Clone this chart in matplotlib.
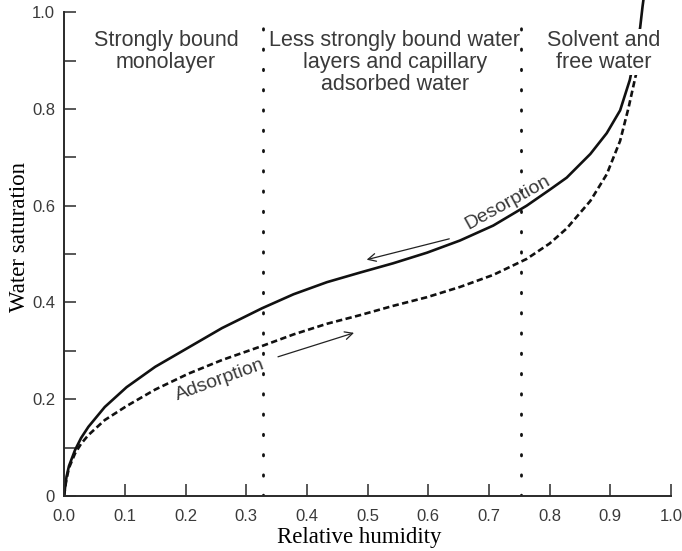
import matplotlib
matplotlib.use("Agg")
import matplotlib.pyplot as plt

# Data
desorption_x = [0.0, 0.002, 0.004, 0.008, 0.018, 0.028, 0.04, 0.067, 0.103, 0.15, 0.205, 0.26,
                0.326, 0.378, 0.433, 0.488, 0.542, 0.598, 0.652, 0.707, 0.762, 0.80, 0.828,
                0.867, 0.894, 0.916, 0.932, 0.941, 0.949, 0.953, 0.956]
desorption_y = [0.0, 0.022, 0.04, 0.062, 0.095, 0.12, 0.143, 0.184, 0.225, 0.267, 0.307, 0.347,
                0.388, 0.417, 0.442, 0.462, 0.481, 0.503, 0.528, 0.559, 0.60, 0.633, 0.658,
                0.707, 0.750, 0.797, 0.860, 0.915, 0.968, 1.012, 1.04]
adsorption_x = [0.0, 0.002, 0.004, 0.008, 0.018, 0.028, 0.04, 0.067, 0.103, 0.15, 0.205, 0.26,
                0.326, 0.378, 0.433, 0.488, 0.542, 0.598, 0.652, 0.707, 0.762, 0.80, 0.828,
                0.867, 0.894, 0.916, 0.930, 0.941, 0.946]
adsorption_y = [0.0, 0.02, 0.035, 0.058, 0.088, 0.108, 0.126, 0.157, 0.186, 0.220, 0.253, 0.281,
                0.310, 0.334, 0.356, 0.374, 0.393, 0.411, 0.432, 0.457, 0.49, 0.522, 0.553,
                0.61, 0.665, 0.734, 0.803, 0.865, 0.89]
boundaries = [0.328, 0.753]
region_labels = ["Strongly bound\nmonolayer",
                 "Less strongly bound water\nlayers and capillary\nadsorbed water",
                 "Solvent and\nfree water"]
x_ticks = [0.0, 0.1, 0.2, 0.3, 0.4, 0.5, 0.6, 0.7, 0.8, 0.9, 1.0]
x_tick_labels = ["0.0", "0.1", "0.2", "0.3", "0.4", "0.5", "0.6", "0.7", "0.8", "0.9", "1.0"]
y_ticks = [0.0, 0.2, 0.4, 0.6, 0.8, 1.0]
y_tick_labels = ["0", "0.2", "0.4", "0.6", "0.8", "1.0"]
y_minor = [0.1, 0.3, 0.5, 0.7, 0.9]

sans = ["Liberation Sans", "DejaVu Sans"]
serif = ["Liberation Serif", "DejaVu Serif"]
tc = "#3a3a3a"

fig = plt.figure(figsize=(6.82, 5.51), dpi=100)
ax = fig.add_axes([0.094, 0.0998, 0.89, 0.900])
ax.set_xlim(0, 1.0)
ax.set_ylim(0, 1.025)

for s in ["top", "right"]:
    ax.spines[s].set_visible(False)
ax.spines["left"].set_bounds(0, 1.0)
for s in ["left", "bottom"]:
    ax.spines[s].set_linewidth(1.4)
    ax.spines[s].set_color("#2a2a2a")

ax.set_xticks(x_ticks)
ax.set_xticklabels(x_tick_labels, family=sans, fontsize=12, color=tc)
ax.set_yticks(y_ticks)
ax.set_yticklabels(y_tick_labels, family=sans, fontsize=12, color=tc)
ax.set_yticks(y_minor, minor=True)
ax.tick_params(axis="x", which="both", direction="in", length=8.5, width=1.1, pad=9, color="#2a2a2a")
ax.tick_params(axis="y", which="both", direction="in", length=8.5, width=1.1, pad=6.5, color="#2a2a2a")

# curves
ax.plot(desorption_x, desorption_y, color="#111111", lw=1.9, solid_joinstyle="round", zorder=2)
ax.plot(adsorption_x, adsorption_y, color="#111111", lw=1.9, linestyle=(0, (2.4, 1.3)), zorder=2)

# region boundaries
for b in boundaries:
    ax.plot([b, b], [0, 0.99], color="#111111", lw=2.0, linestyle=(0, (0.5, 6.8)),
            dash_capstyle="round", zorder=1)

# region labels
ax.text(0.168, 0.918, region_labels[0], ha="center", va="center", family=sans,
        fontsize=15.5, color=tc, linespacing=1.05)
ax.text(0.545, 0.896, region_labels[1], ha="center", va="center", family=sans,
        fontsize=15.5, color=tc, linespacing=1.05)
ax.text(0.889, 0.918, region_labels[2], ha="center", va="center", family=sans,
        fontsize=15.5, color=tc, linespacing=1.05,
        bbox=dict(facecolor="white", edgecolor="none", pad=1.0), zorder=4)

# process annotations
ax.text(0.73, 0.607, "Desorption", ha="center", va="center", rotation=29,
        family=sans, fontsize=14, color=tc)
ax.annotate("", xy=(0.494, 0.487), xytext=(0.639, 0.533),
            arrowprops=dict(arrowstyle="->", lw=0.9, color="#222222", mutation_scale=14))
ax.text(0.257, 0.239, "Adsorption", ha="center", va="center", rotation=20,
        family=sans, fontsize=14, color=tc)
ax.annotate("", xy=(0.482, 0.339), xytext=(0.348, 0.286),
            arrowprops=dict(arrowstyle="->", lw=0.9, color="#222222", mutation_scale=14))

ax.set_xlabel("Relative humidity", family=serif, fontsize=16.5, color="black")
ax.xaxis.label.set_va("center")
ax.xaxis.set_label_coords(0.487, -0.083)
ax.set_ylabel("Water saturation", family=serif, fontsize=16.5, color="black")
ax.yaxis.label.set_va("center")
ax.yaxis.set_label_coords(-0.074, 0.523)

fig.savefig("out.png", dpi=100)
